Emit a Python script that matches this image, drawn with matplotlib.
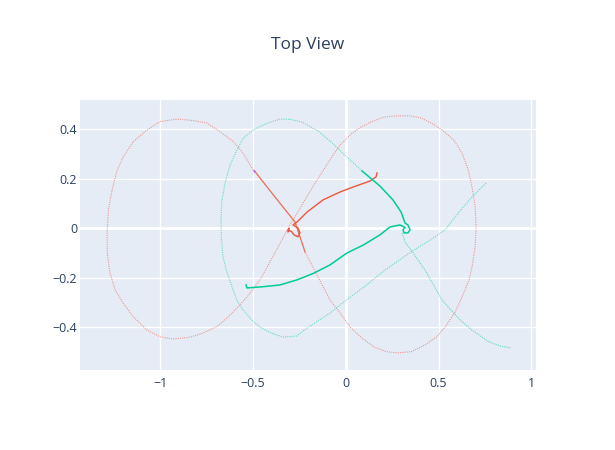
import matplotlib
matplotlib.use("Agg")
import matplotlib.pyplot as plt

plt.rcParams['font.family'] = ['Open Sans', 'DejaVu Sans']

# red body: figure-eight orbit (fast, sparse markers)
red_loop_x = [-0.500, -0.382, -0.274, -0.220, -0.085, -0.030, 0.023, 0.088, 0.152, 0.216,
              0.281, 0.353, 0.427, 0.490, 0.535, 0.590, 0.626, 0.664, 0.680, 0.697,
              0.702, 0.697, 0.680, 0.660, 0.626, 0.581, 0.519, 0.463, 0.405, 0.344,
              0.271, 0.198, 0.136, 0.079, 0.023, -0.030, -0.069, -0.182, -0.301, -0.409,
              -0.463, -0.533, -0.588, -0.640, -0.696, -0.770, -0.840, -0.932, -1.002, -1.072,
              -1.146, -1.201, -1.244, -1.271, -1.286, -1.287, -1.280, -1.260, -1.235, -1.201,
              -1.146, -1.072, -1.002, -0.910, -0.822, -0.748, -0.678, -0.606, -0.553, -0.500]
red_loop_y = [0.235, 0.126, 0.025, -0.096, -0.290, -0.343, -0.399, -0.444, -0.479, -0.498,
              -0.503, -0.498, -0.471, -0.438, -0.399, -0.337, -0.278, -0.209, -0.157, -0.075,
              0.005, 0.087, 0.166, 0.235, 0.303, 0.356, 0.396, 0.423, 0.445, 0.453,
              0.453, 0.447, 0.428, 0.407, 0.376, 0.336, 0.295, 0.162, 0.013, -0.136,
              -0.209, -0.278, -0.323, -0.362, -0.397, -0.423, -0.440, -0.447, -0.438, -0.411,
              -0.357, -0.302, -0.249, -0.181, -0.101, -0.019, 0.073, 0.154, 0.228, 0.287,
              0.349, 0.396, 0.430, 0.440, 0.434, 0.424, 0.389, 0.349, 0.302, 0.235]

# red: denser part of the orbit near the crossing
red_mid_x = [-0.493, -0.382, -0.274, -0.220]
red_mid_y = [0.232, 0.126, 0.025, -0.096]

# red: slow path with the small spiral
red_slow_x = [0.168, 0.163, 0.130, 0.039, -0.031, -0.123, -0.209, -0.263, -0.285,
              -0.258, -0.247, -0.258, -0.279, -0.293, -0.312, -0.306, -0.312]
red_slow_y = [0.223, 0.207, 0.190, 0.166, 0.146, 0.114, 0.065, 0.025, 0.013,
              0.001, -0.019, -0.035, -0.027, -0.013, -0.009, -0.001, -0.015]

# green body: loop (fast, sparse markers)
green_loop_x = [0.756, 0.680, 0.610, 0.535, 0.454, 0.351, 0.211, 0.098, -0.004, -0.085,
                -0.209, -0.265, -0.339, -0.399, -0.463, -0.507, -0.554, -0.588, -0.613, -0.642,
                -0.662, -0.671, -0.673, -0.669, -0.651, -0.624, -0.587, -0.553, -0.500, -0.426,
                -0.355, -0.301, -0.236, -0.150, -0.074, 0.006, 0.087]
green_loop_y = [0.182, 0.126, 0.065, -0.007, -0.048, -0.096, -0.169, -0.237, -0.294, -0.342,
                -0.403, -0.435, -0.439, -0.424, -0.399, -0.370, -0.330, -0.290, -0.237, -0.175,
                -0.116, -0.041, 0.033, 0.107, 0.182, 0.255, 0.315, 0.363, 0.396, 0.423,
                0.440, 0.439, 0.428, 0.392, 0.344, 0.287, 0.231]

# green: slow path into the spiral and out to the left
green_slow_x = [0.087, 0.184, 0.254, 0.298, 0.319, 0.335, 0.346, 0.335, 0.314, 0.308, 0.319,
                0.292, 0.238, 0.184, 0.094, 0.006, -0.085, -0.177, -0.265, -0.355, -0.445,
                -0.533, -0.538]
green_slow_y = [0.231, 0.170, 0.114, 0.065, 0.021, 0.013, -0.007, -0.019, -0.019, -0.007, 0.003,
                0.013, 0.005, -0.027, -0.068, -0.100, -0.148, -0.183, -0.209, -0.229, -0.236,
                -0.241, -0.229]

# green: tail leaving the spiral
green_tail_x = [0.303, 0.319, 0.351, 0.427, 0.519, 0.616, 0.680, 0.772, 0.831, 0.891]
green_tail_y = [-0.019, -0.056, -0.088, -0.169, -0.290, -0.370, -0.411, -0.459, -0.475, -0.483]

# third trace: one point
purple_x = [-0.493]
purple_y = [0.232]

RED = '#EF553B'
GREEN = '#00CC96'
PURPLE = '#AB63FA'
TXT = '#2a3f5f'

fig = plt.figure(figsize=(6.15, 4.5), dpi=100)
ax = fig.add_axes([80 / 615, 80 / 450, 456 / 615, 270 / 450])
ax.set_facecolor('#E5ECF6')

dots = (0, (1, 1))
ax.plot(red_loop_x, red_loop_y, color=RED, lw=0.8, ls=dots, alpha=0.55, zorder=3)
ax.plot(green_loop_x, green_loop_y, color=GREEN, lw=0.8, ls=dots, alpha=0.55, zorder=3)
ax.plot(green_tail_x, green_tail_y, color=GREEN, lw=0.8, ls=dots, alpha=0.6, zorder=3)
ax.plot(red_mid_x, red_mid_y, color=RED, lw=0.9, alpha=0.75, zorder=4)
ax.plot(red_slow_x, red_slow_y, color=RED, lw=1.0, zorder=5, solid_joinstyle='round')
ax.plot(green_slow_x, green_slow_y, color=GREEN, lw=1.1, zorder=5, solid_joinstyle='round')
ax.scatter(purple_x, purple_y, s=2, color=PURPLE, zorder=6, linewidths=0)

ax.set_xlim(-1.433, 1.025)
ax.set_ylim(-0.572, 0.517)

xt = [-1, -0.5, 0, 0.5, 1]
yt = [-0.4, -0.2, 0, 0.2, 0.4]
ax.set_xticks(xt)
ax.set_xticklabels(['\u22121', '\u22120.5', '0', '0.5', '1'])
ax.set_yticks(yt)
ax.set_yticklabels(['\u22120.4', '\u22120.2', '0', '0.2', '0.4'])
ax.tick_params(length=0, labelsize=9, labelcolor=TXT)
ax.tick_params(axis='x', pad=5)
ax.tick_params(axis='y', pad=2)
ax.grid(True, color='white', lw=1, zorder=1)
ax.axhline(0, color='white', lw=2, zorder=2)
ax.axvline(0, color='white', lw=2, zorder=2)
ax.set_axisbelow(True)
for s in ax.spines.values():
    s.set_visible(False)

fig.text(0.5, 1 - 45 / 450, 'Top View', ha='center', va='center', fontsize=12.5, color=TXT)

fig.savefig('out.png', dpi=100)
